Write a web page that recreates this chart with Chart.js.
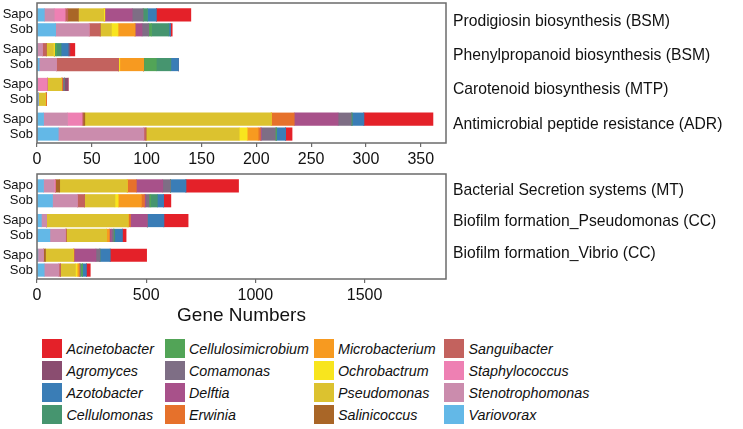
<!DOCTYPE html>
<html>
<head>
<meta charset="utf-8">
<script src="https://cdn.jsdelivr.net/npm/chart.js@4.4.1/dist/chart.umd.min.js"></script>
<style>
  body { margin: 0; background: #fff; }
  #wrap { position: relative; width: 743px; height: 429px; overflow: hidden; }
  canvas { position: absolute; left: 0; }
  .leg { position: absolute; font: italic 14.3px "Liberation Sans", Arial, sans-serif; color: #111; white-space: nowrap; }
  .sw { position: absolute; width: 20px; height: 19px; }
</style>
</head>
<body>
<div id="wrap">
  <canvas id="topChart" width="743" height="172" style="top:0"></canvas>
  <canvas id="bottomChart" width="743" height="160" style="top:170px"></canvas>
</div>
<script>
const samples = ["Sapo", "Sob"];
const topPathways = [
  "Prodigiosin biosynthesis (BSM)",
  "Phenylpropanoid biosynthesis (BSM)",
  "Carotenoid biosynthesis (MTP)",
  "Antimicrobial peptide resistance (ADR)",
];
const bottomPathways = [
  "Bacterial Secretion systems (MT)",
  "Biofilm formation_Pseudomonas (CC)",
  "Biofilm formation_Vibrio (CC)",
];
const topTicks = [0, 50, 100, 150, 200, 250, 300, 350];
const bottomTicks = [0, 500, 1000, 1500];
const genera = [
  "Acinetobacter", "Agromyces", "Azotobacter", "Cellulomonas",
  "Cellulosimicrobium", "Comamonas", "Delftia", "Erwinia",
  "Microbacterium", "Ochrobactrum", "Pseudomonas", "Salinicoccus",
  "Sanguibacter", "Staphylococcus", "Stenotrophomonas", "Variovorax",
];
const colors = [
  "#e42129", "#8a4d70", "#3a7db6", "#46956f",
  "#52a457", "#7e6e85", "#a8518a", "#e6712b",
  "#f79a20", "#f8e51e", "#dcc22f", "#a96627",
  "#c3625e", "#ee80b3", "#cb8cad", "#63b8e7",
];

// gene counts per row, in the same order as genera
const prodigiosinSapo = [31.5, 0, 8, 4, 0, 10, 25, 0, 0, 1, 23, 9.7, 2.4, 10, 9, 6.7];
const prodigiosinSob = [1.5, 0, 1.5, 15.8, 2.7, 6, 6.4, 0, 15.5, 6, 10.3, 0, 10, 0, 30.6, 17];
const phenylSapo = [4.5, 1.5, 6.5, 4, 2, 0, 0, 0, 0, 1, 6.5, 0, 3.5, 0, 5, 0];
const phenylSob = [0, 0, 7, 13.3, 11.5, 0, 0, 0, 21.8, 1, 0, 0, 56.7, 0, 15.8, 2];
const carotenoidSapo = [0, 3.5, 0, 0, 0, 1.5, 0, 1, 0, 0, 13, 0, 0, 9.4, 0, 0];
const carotenoidSob = [0, 0, 0, 0, 0, 0, 0, 1.2, 0, 0, 6.4, 0, 0, 0, 0, 1.2];
const antimicrobialSapo = [63, 0, 10.5, 1, 0, 12, 40, 21, 0, 0, 170, 1.5, 1, 13.3, 21.8, 6];
const antimicrobialSob = [5.8, 0, 8.5, 0, 1, 12.6, 1, 2, 10, 7.3, 85, 0, 2, 0, 78, 19.4];

const secretionSapo = [241, 0, 71, 0, 0, 35, 121, 42, 0, 0, 309, 20, 0, 6, 48, 30];
const secretionSob = [33, 0, 29, 30, 8, 15, 6, 14, 106, 15, 139, 0, 33, 0, 114, 71];
const biofilmPseuSapo = [111, 0, 76, 0, 0, 0, 77, 11, 0, 0, 373, 0, 0, 0, 24, 20];
const biofilmPseuSob = [17, 0, 35, 6, 0, 9, 10, 0, 12, 0, 185, 0, 4, 0, 71, 59];
const biofilmVibrioSapo = [167, 0, 47, 0, 0, 18, 100, 4, 0, 0, 127, 9, 0, 0, 26, 4];
const biofilmVibrioSob = [18, 0, 18, 0, 9, 6, 0, 0, 9, 8, 68, 0, 8, 0, 67, 33];

const topRows = [prodigiosinSapo, prodigiosinSob, phenylSapo, phenylSob,
  carotenoidSapo, carotenoidSob, antimicrobialSapo, antimicrobialSob];
const bottomRows = [secretionSapo, secretionSob, biofilmPseuSapo, biofilmPseuSob,
  biofilmVibrioSapo, biofilmVibrioSob];

const FONT = "'Liberation Sans', Arial, sans-serif";
const rowY = (r) => Math.floor(r / 2) * 7 + (r % 2) * 3;

const boxPlugin = {
  id: "box",
  afterDatasetsDraw(chart) {
    const a = chart.chartArea;
    const c = chart.ctx;
    c.save();
    c.strokeStyle = "#6b6b6b";
    c.lineWidth = 1.5;
    c.strokeRect(a.left, a.top, a.right - a.left, a.bottom - a.top);
    c.restore();
  },
};

function noPad(s) {
  s.paddingTop = 0;
  s.paddingBottom = 0;
}

function makeChart(canvasId, rows, pathways, opts) {
  const datasets = genera.map((g, gi) => ({
    label: g,
    data: rows.map((row, r) => ({ x: row[gi], y: rowY(r) })),
    backgroundColor: colors[gi],
    borderWidth: 0,
    barThickness: 12.5,
  })).reverse();

  return new Chart(document.getElementById(canvasId), {
    type: "bar",
    data: { datasets },
    plugins: [boxPlugin],
    options: {
      indexAxis: "y",
      responsive: false,
      animation: false,
      layout: { padding: { top: opts.padTop, right: 0, left: 0, bottom: 0 } },
      plugins: { legend: { display: false }, tooltip: { enabled: false } },
      scales: {
        x: {
          type: "linear",
          stacked: true,
          min: 0,
          max: opts.xMax,
          border: { display: false },
          grid: { drawOnChartArea: false, drawTicks: true, tickLength: 4, color: "#6b6b6b", lineWidth: 1.2 },
          afterBuildTicks: (s) => { s.ticks = opts.ticks.map((v) => ({ value: v })); },
          ticks: {
            padding: opts.tickPad,
            color: "#111",
            font: { family: FONT, size: 16 },
            maxRotation: 0,
            autoSkip: false,
            callback: (v) => String(v),
          },
          title: opts.title
            ? { display: true, text: opts.title, color: "#111", font: { family: FONT, size: 19 }, padding: { top: 0, bottom: 3 } }
            : { display: false },
          afterFit: (s) => { s.height = opts.xHeight; },
        },
        y: {
          type: "linear",
          stacked: true,
          reverse: true,
          offset: false,
          min: opts.yMin,
          max: opts.yMax,
          border: { display: false },
          grid: { display: false, drawTicks: false, offset: false },
          afterBuildTicks: (s) => { s.ticks = rows.map((_, r) => ({ value: rowY(r) })); },
          ticks: {
            padding: 4,
            autoSkip: false,
            color: "#111",
            font: { family: FONT, size: 13 },
            callback: (v, i) => samples[i % 2],
          },
          afterFit: (s) => { s.width = 37; noPad(s); },
        },
        y2: {
          type: "linear",
          position: "right",
          reverse: true,
          offset: false,
          min: opts.yMin,
          max: opts.yMax,
          border: { display: false },
          grid: { display: false, drawTicks: false, offset: false },
          afterBuildTicks: (s) => { s.ticks = pathways.map((_, g) => ({ value: g * opts.labelPitch + opts.labelOffset })); },
          ticks: {
            padding: 7,
            autoSkip: false,
            color: "#111",
            font: { family: FONT, size: 15.7 },
            callback: (v, i) => pathways[i],
          },
          afterFit: (s) => { s.width = 297; noPad(s); },
        },
      },
    },
  });
}

makeChart("topChart", topRows, topPathways, {
  padTop: 3, xMax: 373, ticks: topTicks, tickPad: 3, xHeight: 29,
  yMin: -2.4, yMax: 25.8, labelPitch: 6.88, labelOffset: 1.4,
});
makeChart("bottomChart", bottomRows, bottomPathways, {
  padTop: 4, xMax: 1873, ticks: bottomTicks, tickPad: 2.5, xHeight: 51, title: "Gene Numbers",
  yMin: -2.4, yMax: 18.8, labelPitch: 6.3, labelOffset: 1.0,
});

// legend, filled column by column
const wrap = document.getElementById("wrap");
const colX = [42, 164.5, 313.5, 444];
const rowC = [348.7, 370.7, 392.7, 414.7];
genera.forEach((g, i) => {
  const cx = colX[Math.floor(i / 4)];
  const cy = rowC[i % 4];
  const sw = document.createElement("div");
  sw.className = "sw";
  sw.style.left = cx + "px";
  sw.style.top = (cy - 9.5) + "px";
  sw.style.background = colors[i];
  wrap.appendChild(sw);
  const t = document.createElement("div");
  t.className = "leg";
  t.textContent = g;
  t.style.left = (cx + 24.5) + "px";
  t.style.top = (cy - 9) + "px";
  t.style.lineHeight = "18px";
  wrap.appendChild(t);
});
</script>
</body>
</html>
